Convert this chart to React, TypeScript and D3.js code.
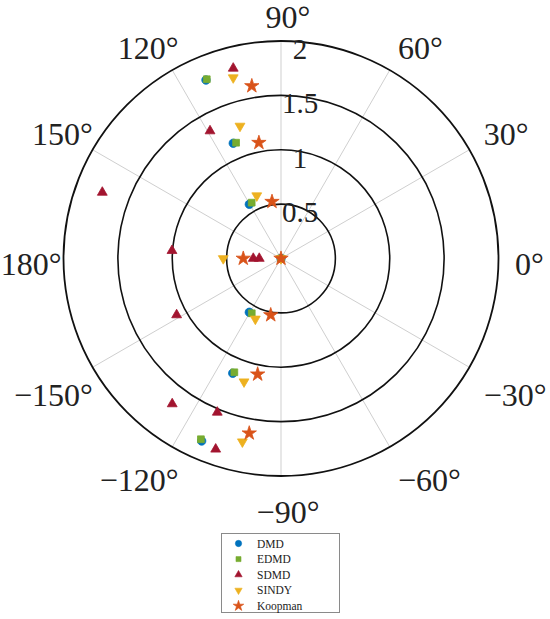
import React, { useRef, useEffect } from 'react';
import * as d3 from 'd3';

// polar data: theta in degrees, r in plot units
const dmdTheta = [112.8, 112.5, 120.3, -120.5, -112.8, -113.5, 0];
const dmdR = [1.78, 1.147, 0.577, 0.574, 1.145, 1.83, 0];

const edmdTheta = [112.5, 111.2, 117.7, -118.1, -112.3, -113.9, 0];
const edmdR = [1.784, 1.142, 0.58, 0.571, 1.131, 1.818, 0];

const sdmdTheta = [104.1, 119.1, 159.7, 175.9, 180, 180, -151.6, -126.8, -112.5, -108.9];
const sdmdR = [1.803, 1.342, 1.752, 1.005, 0.255, 0.2, 1.091, 1.67, 1.531, 1.854];

const sindyTheta = [104.8, 107.2, 111.1, 180, -113, -106.7, -101.9, 0];
const sindyR = [1.72, 1.275, 0.619, 0.531, 0.604, 1.183, 1.722, 0];

const koopTheta = [99.6, 100.8, 99.0, 180, 0, -100.3, -101.4, -100.3];
const koopR = [1.609, 1.084, 0.529, 0.347, 0, 0.528, 1.086, 1.633];

const rTicks = [0.5, 1, 1.5, 2];
const thetaTicks = [0, 30, 60, 90, 120, 150, 180, 210, 240, 270, 300, 330];
const spokeTicks = [30, 60, 90, 120, 150, 210, 240, 270, 300, 330];

const series = [
    { name: 'DMD', theta: dmdTheta, r: dmdR, color: '#0072BD', symbol: d3.symbolCircle, size: 56, rot: 0 },
    { name: 'EDMD', theta: edmdTheta, r: edmdR, color: '#77AC30', symbol: d3.symbolSquare, size: 46, rot: 0 },
    { name: 'SDMD', theta: sdmdTheta, r: sdmdR, color: '#A2142F', symbol: d3.symbolTriangle, size: 42, rot: 0 },
    { name: 'SINDY', theta: sindyTheta, r: sindyR, color: '#EDB120', symbol: d3.symbolTriangle, size: 42, rot: 180 },
    { name: 'Koopman', theta: koopTheta, r: koopR, color: '#D95319', symbol: d3.symbolStar, size: 64, rot: 0 },
];

const W = 550;
const H = 619;
const cx = 281;
const cy = 258.5;
const R = 217.5;
const serif = '"Liberation Serif", "Times New Roman", Times, serif';

const App = () => {
    const svgRef = useRef<SVGSVGElement | null>(null);

    useEffect(() => {
        if (!svgRef.current) return;
        const svg = d3.select(svgRef.current);
        svg.selectAll('*').remove();

        const rScale = d3.scaleLinear().domain([0, 2]).range([0, R]);
        const toXY = (deg: number, r: number) => {
            const a = (deg * Math.PI) / 180;
            return [cx + rScale(r) * Math.cos(a), cy - rScale(r) * Math.sin(a)];
        };

        const g = svg.append('g');

        // spokes (no 0/180 line in the original)
        g.selectAll('.spoke')
            .data(spokeTicks)
            .enter().append('line')
            .attr('x1', cx).attr('y1', cy)
            .attr('x2', d => toXY(d, 2)[0])
            .attr('y2', d => toXY(d, 2)[1])
            .attr('stroke', '#cfcfcf')
            .attr('stroke-width', 1);

        // rings
        g.selectAll('.ring')
            .data(rTicks)
            .enter().append('circle')
            .attr('cx', cx).attr('cy', cy)
            .attr('r', d => rScale(d))
            .attr('fill', 'none')
            .attr('stroke', '#111')
            .attr('stroke-width', d => (d === 2 ? 1.8 : 1.6));

        // r labels
        g.selectAll('.rlabel')
            .data(rTicks)
            .enter().append('text')
            .attr('x', cx + 19)
            .attr('y', d => cy - rScale(d) + 18)
            .attr('text-anchor', 'middle')
            .style('font-family', serif)
            .style('font-size', '29px')
            .style('fill', '#222')
            .text(d => String(d));

        // theta labels
        const rl = 234;
        thetaTicks.forEach(t => {
            const a = (t * Math.PI) / 180;
            const c = Math.cos(a);
            const s = Math.sin(a);
            let x = cx + rl * c;
            let y = cy - rl * s;
            let anchor = 'middle';
            if (c > 0.01) anchor = 'start';
            else if (c < -0.01) { anchor = 'end'; x += 14.5; }
            else x += 7;
            if (s > 0.01) y += 3.5;
            else if (s < -0.01) y += 30;
            else y += 16;
            const lab = t <= 180 ? t : t - 360;
            g.append('text')
                .attr('x', x)
                .attr('y', y)
                .attr('text-anchor', anchor)
                .style('font-family', serif)
                .style('font-size', '32px')
                .style('fill', '#222')
                .text((lab < 0 ? '\u2212' + Math.abs(lab) : String(lab)) + '\u00b0');
        });

        // markers
        series.forEach(s => {
            const sym = d3.symbol().type(s.symbol).size(s.size);
            g.selectAll(null)
                .data(s.theta.map((t, i) => toXY(t, s.r[i])))
                .enter().append('path')
                .attr('d', sym)
                .attr('transform', d => `translate(${d[0]},${d[1]}) rotate(${s.rot})`)
                .attr('fill', s.color)
                .attr('stroke', s.color)
                .attr('stroke-width', 0.8);
        });

        // legend
        const lx = 221;
        const ly = 533;
        const leg = svg.append('g').attr('transform', `translate(${lx},${ly})`);
        leg.append('rect')
            .attr('x', 0.5).attr('y', 0.5)
            .attr('width', 118).attr('height', 79)
            .attr('fill', 'white')
            .attr('stroke', '#8a8a8a')
            .attr('stroke-width', 1);
        series.forEach((s, i) => {
            const yy = 10.5 + i * 15.6;
            const sym = d3.symbol().type(s.symbol).size(s.size * 0.55);
            leg.append('path')
                .attr('d', sym)
                .attr('transform', `translate(17.5,${yy}) rotate(${s.rot})`)
                .attr('fill', s.color)
                .attr('stroke', s.color)
                .attr('stroke-width', 0.6);
            leg.append('text')
                .attr('x', 36)
                .attr('y', yy + 4)
                .style('font-family', serif)
                .style('font-size', '11.5px')
                .style('fill', '#222')
                .text(s.name);
        });
    }, []);

    return (
        <div style={{ position: 'absolute', left: 0, top: 0, background: 'white' }}>
            <svg ref={svgRef} width={W} height={H}></svg>
        </div>
    );
};

export default App;
